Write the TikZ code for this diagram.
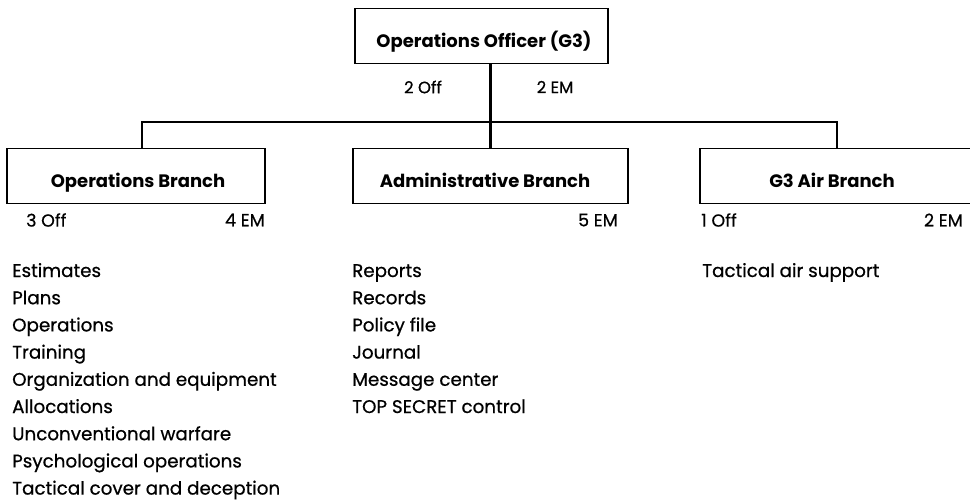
\documentclass[tikz,border=0pt]{standalone}
\usepackage{fontspec}
\setmainfont{Poppins}
\newfontfamily\medfont{Poppins}[FakeBold=0.7]
\begin{document}
\begin{tikzpicture}[x=1pt,y=-1pt,
  box/.style={draw, line width=1.8pt, minimum height=55pt, inner sep=0pt},
  title/.style={font=\fontsize{18}{20}\selectfont\bfseries, inner sep=0pt},
  staff/.style={font=\fontsize{17.5}{20}\medfont, inner sep=0pt},
  item/.style={font=\fontsize{18.3}{20}\medfont, inner sep=0pt, anchor=base west},
  conn/.style={line width=2.2pt}]
\useasboundingbox (0,0) rectangle (970,501);
% boxes
\node[box, minimum width=253pt] (top) at (481.5,36) {};
\node[box, minimum width=258pt] (lb) at (136,176) {};
\node[box, minimum width=275pt] (mb) at (490.5,176) {};
\node[box, minimum width=280pt] (rb) at (840,176) {};
\node[title, anchor=base] (tt) at (484,47) {Operations Officer (G3)};
\node[title, anchor=base] (lt) at (138,187) {Operations Branch};
\node[title, anchor=base] (mt) at (485,187) {Administrative Branch};
\node[title, anchor=base] (rt) at (832,187) {G3 Air Branch};
% connectors
\coordinate (jl) at (142,122);
\coordinate (jr) at (837,122);
\draw[conn] (top.south -| mb.north) -- (mb.north);
\draw[conn] (lb.north -| jl) -- (jl) -- (jr) -- (rb.north -| jr);
% staff
\node[staff, font=\fontsize{16.5}{20}\medfont] (s1) at (423,87) {2 Off};
\node[staff, font=\fontsize{16.5}{20}\medfont] (s2) at (555,87) {2 EM};
\node[staff, anchor=west] (s3) at (26,220) {3 Off};
\node[staff, anchor=east] (s4) at (265,220) {4 EM};
\node[staff, anchor=east] (s5) at (618,220) {5 EM};
\node[staff, anchor=west] (s6) at (701,220) {1 Off};
\node[staff, anchor=east] (s7) at (963,220) {2 EM};
% lists
\node[item] (a1) at (12,277) {Estimates};
\node[item] (a2) at (12,304.2) {Plans};
\node[item] (a3) at (12,331.4) {Operations};
\node[item] (a4) at (12,358.6) {Training};
\node[item] (a5) at (12,385.8) {Organization and equipment};
\node[item] (a6) at (12,413) {Allocations};
\node[item] (a7) at (12,440.2) {Unconventional warfare};
\node[item] (a8) at (12,467.4) {Psychological operations};
\node[item] (a9) at (12,494.6) {Tactical cover and deception};
\node[item] (b1) at (352,277) {Reports};
\node[item] (b2) at (352,304.2) {Records};
\node[item] (b3) at (352,331.4) {Policy file};
\node[item] (b4) at (352,358.6) {Journal};
\node[item] (b5) at (352,385.8) {Message center};
\node[item] (b6) at (352,413) {TOP SECRET control};
\node[item] (c1) at (702,277) {Tactical air support};
\end{tikzpicture}
\end{document}
